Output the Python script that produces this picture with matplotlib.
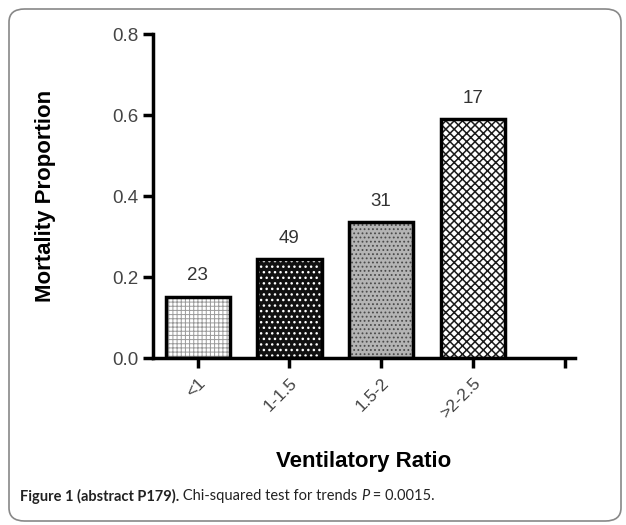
import numpy as np
import matplotlib
matplotlib.use('Agg')
import matplotlib.pyplot as plt
from matplotlib.patches import FancyBboxPatch

# data
categories = ['<1', '1-1.5', '1.5-2', '>2-2.5', '']
proportions = [0.152, 0.245, 0.336, 0.59]
counts = [23, 49, 31, 17]
yticks = [0.0, 0.2, 0.4, 0.6, 0.8]

# fill style per bar: (face colour, hatch, hatch colour, hatch width)
fills = [('white', '++++', '#9a9a9a', 0.7),
         ('#111111', '...', 'white', 1.0),
         ('#b4b4b4', '....', '#4a4a4a', 0.8),
         ('white', 'xxxx', '#1a1a1a', 1.1)]

plt.rcParams['font.family'] = ['Liberation Sans', 'DejaVu Sans']

fig = plt.figure(figsize=(6.26, 5.25), dpi=100)
ax = fig.add_axes([0.244, 0.3175, 0.674, 0.6175])

x = np.arange(len(proportions))
for i in range(len(proportions)):
    fc, h, hc, hw = fills[i]
    with plt.rc_context({'hatch.linewidth': hw}):
        ax.bar(x[i], proportions[i], width=0.7, color=fc, hatch=h,
               edgecolor=hc, linewidth=0, zorder=2)
    ax.bar(x[i], proportions[i], width=0.7, fill=False,
           edgecolor='black', linewidth=2.5, zorder=3)
    ax.annotate(str(counts[i]), (x[i], proportions[i]), xytext=(0, 9),
                textcoords='offset points', ha='center', va='bottom',
                fontsize=13.5, color='#333333')

ax.set_xlim(-0.49, 4.11)
ax.set_ylim(0, 0.8)
ax.set_xticks(np.arange(len(categories)))
ax.set_xticklabels(categories, rotation=45, ha='right',
                   rotation_mode='anchor', fontsize=12.5, color='#444444')
ax.set_yticks(yticks)
ax.set_yticklabels(['%.1f' % v for v in yticks], fontsize=13.5, color='#444444')
for s in ['top', 'right']:
    ax.spines[s].set_visible(False)
for s in ['left', 'bottom']:
    ax.spines[s].set_linewidth(2.5)
ax.tick_params(axis='both', width=2.5, length=7, direction='out')
ax.tick_params(axis='x', pad=5)

ax.set_ylabel('Mortality Proportion', fontsize=16, fontweight='bold',
              labelpad=40)
ax.set_xlabel('Ventilatory Ratio', fontsize=16, fontweight='bold',
              labelpad=22)

# rounded frame around the panel
frame = FancyBboxPatch((9 / 626, 4 / 525), 612 / 626, 512 / 525,
                       boxstyle='round,pad=0,rounding_size=0.025',
                       transform=fig.transFigure, fill=False,
                       edgecolor='#888888', linewidth=1.2)
fig.patches.append(frame)

# caption, written piece by piece
fig.canvas.draw()
r = fig.canvas.get_renderer()
cx = 20 / 626
cy = 1 - 496 / 525
pieces = [('Figure 1 (abstract P179).', 'bold', 'normal'),
          (' Chi-squared test for trends ', 'normal', 'normal'),
          ('P', 'normal', 'italic'),
          (' = 0.0015.', 'normal', 'normal')]
for txt, w, st in pieces:
    t = fig.text(cx, cy, txt, fontsize=10.5, fontweight=w, fontstyle=st,
                 family=['Lato', 'DejaVu Sans'],
                 va='center', color='#222222')
    bb = t.get_window_extent(renderer=r)
    cx += bb.width / fig.bbox.width

fig.savefig('out.png', dpi=100)
